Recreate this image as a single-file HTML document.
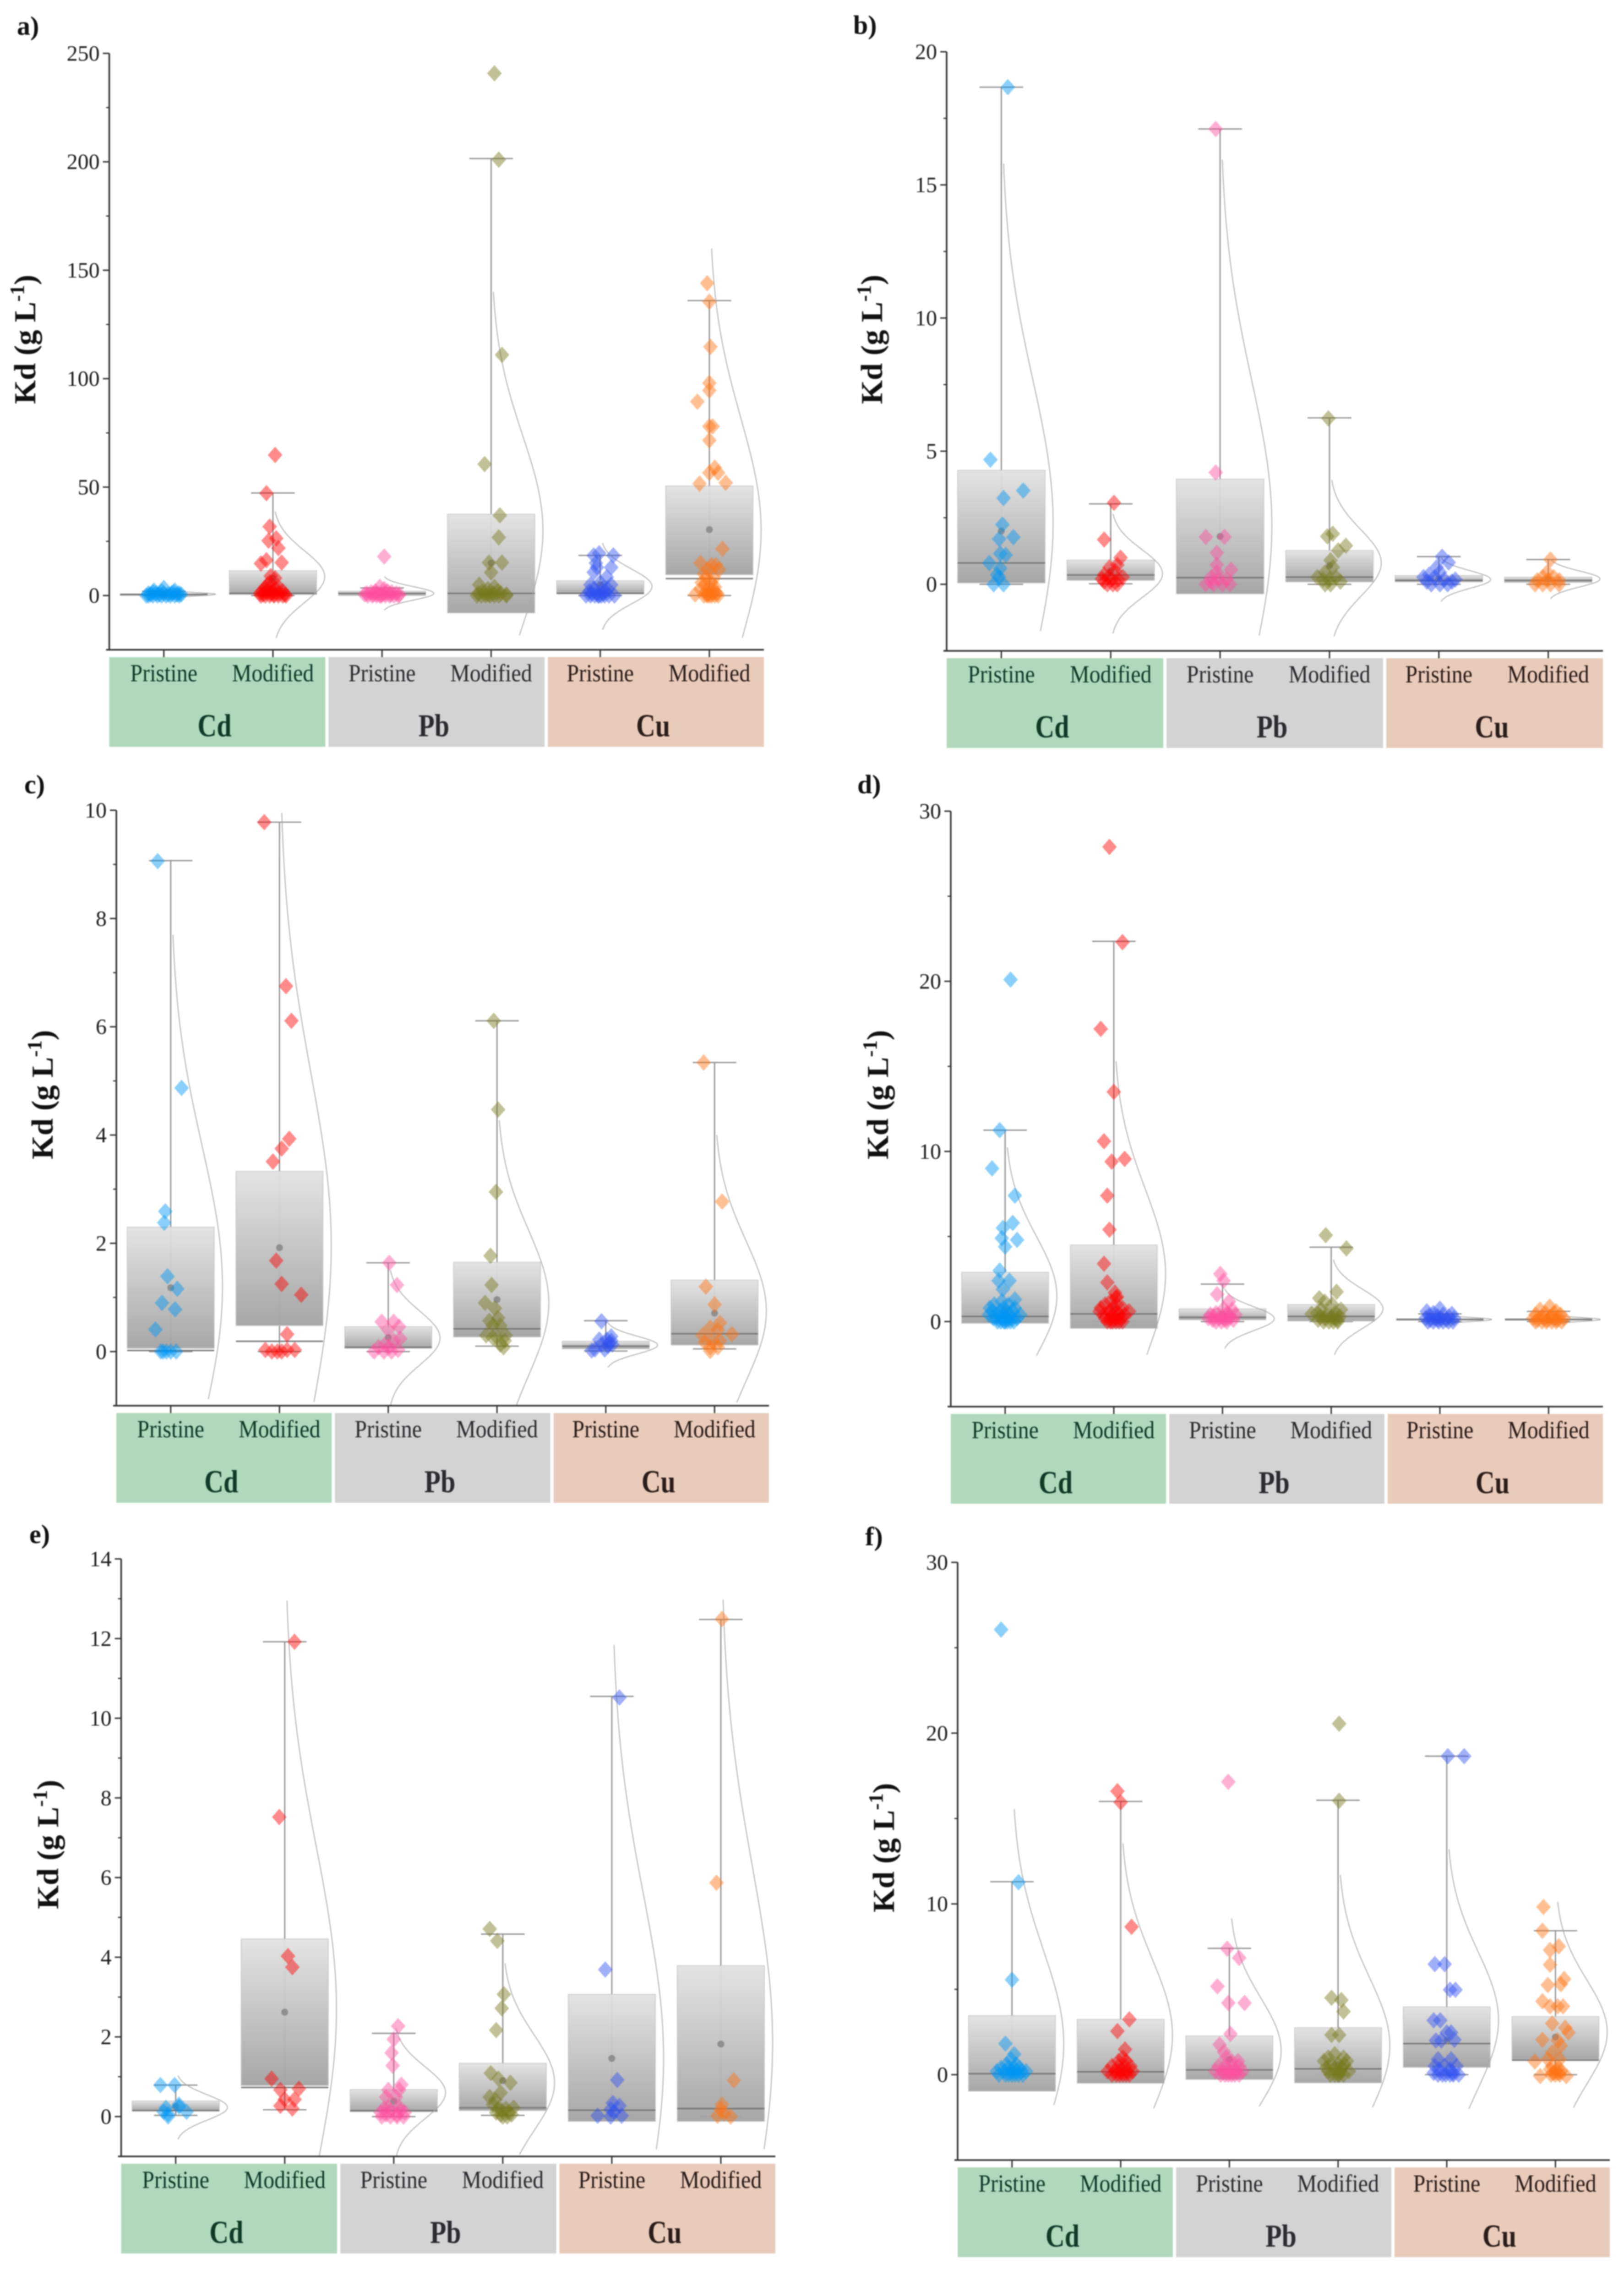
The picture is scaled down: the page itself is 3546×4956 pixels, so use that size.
<!DOCTYPE html>
<html lang="en">
<head>
<meta charset="utf-8">
<title>Kd distribution by metal and adsorbent type</title>
<style>
html,body{margin:0;padding:0;background:#fff;}
svg{display:block;filter:blur(1.3px);}
text{font-family:"Liberation Serif",serif;}
</style>
</head>
<body>
<svg id="figure" xmlns="http://www.w3.org/2000/svg" width="3546" height="4956" viewBox="0 0 3546 4956">
<defs>
<linearGradient id="boxFill" x1="0" y1="0" x2="0" y2="1">
<stop offset="0" stop-color="#e2e2e2"/>
<stop offset="1" stop-color="#a2a2a2"/>
</linearGradient>
</defs>
<rect x="0" y="0" width="3546" height="4956" fill="#ffffff"/>
</svg>
<script>
const categories = ['Pristine','Modified','Pristine','Modified','Pristine','Modified'];
const metals = ['Cd','Pb','Cu'];
const yAxisTitle = 'Kd (g L';
const yAxisExponent = '-1';
const pointColors = ['#0096f5','#ff0000','#ff4fa0','#77781c','#3050f0','#ff7314'];

/* Panel a */
const aDomain = [-25,250];
const aTicks = [0,50,100,150,200,250];
const aMinorTicks = [25,75,125,175,225];
const aQ1 = [0,0.5,0,-8,1,9.6];
const aQ3 = [0.8,11.5,2,37.5,6.8,50.5];
const aMedian = [0.5,1,1,1,1,7.8];
const aMean = [0.5,8,1,15,5,30.4];
const aWhiskerLow = [0,0,0,0,0,0];
const aWhiskerHigh = [2,47.3,3.5,201.5,18.5,136];
const aCurveMean = [0.6,8.7,1,30,4.2,30];
const aCurveSd = [0.8,12,3.1,44,8,52];
const aValues = [
[0,0,0,0,0,0,0,0,0,.5,.5,.5,.5,.5,1,1,1,1,1,1.5,1.5,2.3,2.3,3.5,2],
[64.8,47.2,31.8,25.3,26.4,21.9,14.8,16.3,15.2,9,8,6,5,4.5,3.5,3,3,2,2,2,1.5,1,1,1,.5,.5,.5,0,0,0,0,0,0,0],
[18,4,3,2,2,1.5,1.5,1,1,1,1,.5,.5,.5,.5,.5,0,0,0,0,0,0,0,0,0],
[240.8,201,111,60.6,37,26.8,15.2,15.2,10.7,5,4,3,2,2,1,1,1,1,.5,.5,0,0,0,0,0,0,0],
[19.5,18.5,18.5,15,13,13,10.7,8.5,6,5,5,3,3,3,2,2,1,1,1,0,0,0,0,0,0,0,0,0],
[144,135.5,114.7,98,94.6,89.4,78,78,71.6,59,56.6,56.6,51.6,52,21.5,15,14,14,12,12,10,8,8,6,6,5,4,3,3,2,2,1,1,1,.5,.5,0,0,0,0,0,0]
];
const aJitter = [
[-14,-10,-6,-2,2,6,10,14,-16,-12,-4,4,12,16,-14,-7,0,7,14,-10,9,-9,10,0,-2],
[2,-6,-3,-4,3,5,-11,-6,8,-2,2,-3,-5,4,-7,3,-4,-10,0,9,-6,-12,-2,5,-9,1,11,-11,-7,-3,1,5,9,12],
[2,-2,2,-6,5,-10,9,-14,-5,3,13,-16,-8,0,8,16,-13,-9,-5,-1,3,7,11,15,-2],
[3,7,10,-6,8,7,-2,10,0,-11,3,-3,-8,6,-12,-5,2,9,-2,14,-13,-9,-5,-1,3,7,14],
[-1,-6,12,-4,-3,10,-6,6,0,-9,10,-6,2,7,-10,4,-3,-8,3,-13,-9,-5,-2,1,4,8,13,-1],
[-2,0,1,0,0,-11,3,0,0,5,8,0,-9,15,12,-8,2,6,-1,9,-5,-3,4,-7,2,-4,5,-8,1,-3,5,-1,3,7,-13,-2,-5,-2,0,2,5,8]
];

/* Panel b */
const bDomain = [-2.5,20];
const bTicks = [0,5,10,15,20];
const bMinorTicks = [2.5,7.5,12.5,17.5];
const bQ1 = [0.05,0.15,-0.36,0.09,0.09,0.07];
const bQ3 = [4.28,0.91,3.95,1.27,0.33,0.27];
const bMedian = [0.8,0.35,0.25,0.27,0.15,0.15];
const bMean = [2,0.5,1.8,0.7,0.2,0.2];
const bWhiskerLow = [0,0.02,0,0,0,0];
const bWhiskerHigh = [18.67,3.02,17.1,6.25,1.04,0.93];
const bCurveMean = [2.3,0.4,2.2,0.8,0.18,0.2];
const bCurveSd = [5.4,0.9,5.5,1.25,0.33,0.3];
const bValues = [
[18.67,4.68,3.52,3.24,2.24,1.7,1.77,1.1,1.15,.8,.6,.36,.27,0,0],
[3.06,1.68,1,.73,.64,.5,.36,.27,.27,.18,.18,.2,0,0,.1,0],
[17.1,4.2,1.78,1.78,1.18,.73,.55,.27,.2,.2,0,0,0,0,.45,.1],
[6.23,1.9,1.8,1.45,1.27,.9,.64,.45,.27,.27,.18,.18,.1,0,0],
[1.04,.82,.64,.45,.36,.27,.27,.18,.18,.1,.1,0,0,0],
[.93,.45,.27,.27,.18,.15,.15,0,0,0,0]
];
const bJitter = [
[6,-10,20,2,1,-2,11,4,-1,-11,-1,-4,-2,-7,2],
[3,-6,9,6,-1,4,-6,11,-2,1,7,-8,-3,2,-6,6],
[-4,-4,-13,4,-3,-3,10,-8,-1,6,-13,-6,2,9,-3,-8],
[-1,3,-2,15,8,1,3,-4,-11,6,-6,0,10,-4,1],
[3,9,-2,1,-9,-4,-14,5,15,-11,12,-7,1,8],
[2,-1,-5,5,0,-10,10,-12,-5,2,10]
];

/* Panel c */
const cDomain = [-1,10];
const cTicks = [0,2,4,6,8,10];
const cMinorTicks = [1,3,5,7,9];
const cQ1 = [0.06,0.48,0.06,0.27,0.05,0.12];
const cQ3 = [2.3,3.33,0.46,1.65,0.19,1.32];
const cMedian = [0.02,0.19,0.08,0.42,0.1,0.33];
const cMean = [1.18,1.92,0.26,0.96,0.1,0.71];
const cWhiskerLow = [0,0,0,0.1,0.01,0.05];
const cWhiskerHigh = [9.07,9.78,1.64,6.11,0.57,5.34];
const cCurveMean = [1.2,1.95,0.25,0.9,0.12,0.75];
const cCurveSd = [2.6,3.2,0.5,1.35,0.165,1.3];
const cValues = [
[9.06,4.87,2.59,2.38,1.39,1.16,.9,.78,.41,0,0,0,0,0],
[9.78,6.75,6.11,3.93,3.75,3.51,1.68,1.25,1.05,.32,.03,0,0,0,.03,.03],
[1.64,1.23,.55,.55,.46,.4,.24,.2,.13,.08,.08,0,0,0,.03],
[6.11,4.47,2.95,1.77,1.23,.9,.8,.57,.62,.48,.48,.3,.3,.26,.26,.13,.08,.2],
[.56,.28,.22,.22,.13,.13,.04,.04,.1,.2,.02,.15],
[5.34,2.77,1.2,.87,.53,.44,.3,.4,.32,.2,.2,.17,.08,.08,.01]
];
const cJitter = [
[-12,10,-5,-6,-3,6,-8,4,-14,-9,-4,0,5,-7],
[-14,6,11,9,2,-6,-3,2,20,7,-13,-7,-2,2,7,14],
[1,8,-6,5,10,0,11,5,-3,-9,1,-13,-4,3,9],
[-3,1,-1,-6,-5,-11,-2,-7,1,-4,3,-10,8,-4,0,3,6,7],
[-4,5,-6,1,-4,6,-10,-1,2,5,-13,3],
[-10,7,-8,0,5,-4,-11,3,16,-2,5,-9,-4,3,-4]
];

/* Panel d */
const dDomain = [-5,30];
const dTicks = [0,10,20,30];
const dMinorTicks = [5,15,25];
const dQ1 = [-0.1,-0.4,0.1,0.03,0.08,0.08];
const dQ3 = [2.9,4.5,0.75,1,0.17,0.17];
const dMedian = [0.3,0.45,0.25,0.3,0.12,0.12];
const dMean = [0.6,0.8,0.4,0.4,0.1,0.1];
const dWhiskerLow = [0,0,0,0,0,0];
const dWhiskerHigh = [11.25,22.35,2.2,4.37,0.45,0.6];
const dCurveMean = [1.5,2.8,0.17,0.75,0.12,0.12];
const dCurveSd = [3.5,5,0.7,1.15,0.12,0.12];
const dValues = [
[20.1,11.25,9,7.4,5.8,5.5,4.9,4.8,4.4,3,2.4,2.4,1.9,1.3,1.2,1,1,.8,.8,.8,.6,.6,.6,.6,.4,.4,.4,.4,.4,.2,.2,.2,.2,.2,.2,0,0,0,0,0,0,0],
[27.9,22.3,17.2,13.5,10.6,9.56,9.4,7.4,5.4,3.4,2.3,1.7,1.45,1.4,1.2,1,1,.8,.8,.8,.6,.6,.6,.6,.4,.4,.4,.4,.2,.2,.2,.2,0,0,0,0,0,0],
[2.8,2.4,1.6,1.17,.75,.7,.5,.5,.4,.4,.3,.3,.3,.2,.2,.2,.1,.1,.1,0,0,0],
[5.08,4.3,1.75,1.37,1.17,1,.45,.7,.7,.5,.5,.4,.3,.3,.3,.2,.2,.1,.1,0,0,0,0],
[.75,.6,.5,.45,.4,.35,.3,.3,.2,.2,.2,.2,.1,.1,.1,0,0,0,0,0,0],
[.88,.7,.6,.5,.5,.4,.4,.3,.3,.2,.2,.2,.2,.1,.1,.1,0,0,0,0,0,0]
];
const dJitter = [
[5,-5,-12,9,7,-2,-3,11,0,-5,-6,4,-2,9,-3,-10,3,-14,-1,9,-12,-5,1,7,-15,-6,-2,4,14,-11,-8,-3,1,6,11,-7,-4,-1,2,5,8,0],
[-4,8,-12,0,-9,10,-2,-6,-4,-9,-6,1,3,2,-3,-8,3,-12,-1,8,-13,-4,3,14,-9,-2,5,10,-8,-3,2,7,-6,-3,-1,2,5,8],
[-2,1,-5,6,1,9,-6,4,-11,12,-8,0,7,-13,-3,5,-9,2,10,-6,-1,4],
[-5,14,5,-11,-6,1,-18,-9,9,-13,4,-4,-10,0,8,-6,3,-12,6,-7,-2,2,6],
[0,-12,-6,11,3,-10,-2,8,-13,-5,1,13,-9,-2,6,-11,-6,-1,3,8,12],
[1,-8,7,-3,5,-12,11,-6,2,-14,-4,6,14,-10,-1,8,-12,-6,-2,3,7,12]
];

/* Panel e */
const eDomain = [-1,14];
const eTicks = [0,2,4,6,8,10,12,14];
const eMinorTicks = [1,3,5,7,9,11,13];
const eQ1 = [0.15,0.78,0.12,0.15,-0.12,-0.12];
const eQ3 = [0.39,4.46,0.68,1.34,3.07,3.79];
const eMedian = [0.15,0.73,0.15,0.22,0.16,0.2];
const eMean = [0.25,2.62,0.39,0.9,1.46,1.82];
const eWhiskerLow = [0.03,0.17,0,0.03,0.03,0];
const eWhiskerHigh = [0.79,11.92,2.09,4.58,10.55,12.48];
const eCurveMean = [0.23,2.7,0.6,0.85,1.46,1.85];
const eCurveSd = [0.32,4.1,0.65,1.2,4.15,4.45];
const eValues = [
[.79,.79,.3,.22,.12,0,.12,.06,.25],
[11.92,7.52,4.03,3.75,.95,.67,.7,.43,.43,.27,.2],
[2.27,1.94,1.6,1.28,.8,.67,.67,.49,.49,.24,.24,.2,.15,.15,.1,.1,.05,.05,0,0,0,0],
[4.71,4.41,3.07,2.72,2.17,1.09,.95,.85,.6,.49,.42,.22,.3,.2,.2,.15,.1,.1,.05,.05,0,0],
[10.52,3.69,.92,.34,.27,.18,.02,0,.02,.12],
[12.49,5.87,.91,.3,.18,.02,0,.08]
];
const eJitter = [
[-14,-1,3,-9,10,-7,-11,-7,3],
[9,-5,3,7,-12,-4,13,0,9,-4,7],
[4,0,-2,-1,7,-5,5,-7,2,-5,5,-9,-3,6,-12,10,-7,3,-11,-3,3,9],
[-12,-5,1,-1,-6,-11,-4,7,-2,-12,-7,10,-9,-4,3,-1,-6,5,-2,8,0,4],
[7,-6,5,1,7,-1,-13,-1,9,2],
[1,-4,12,1,0,-3,9,3]
];

/* Panel f */
const fDomain = [-5,30];
const fTicks = [0,10,20,30];
const fMinorTicks = [5,15,25];
const fQ1 = [-0.97,-0.5,-0.28,-0.48,0.43,0.9];
const fQ3 = [3.46,3.24,2.27,2.75,3.97,3.4];
const fMedian = [0.06,0.17,0.28,0.34,1.82,0.85];
const fMean = [0.3,0.5,0.9,0.6,2,2.2];
const fWhiskerLow = [0,0,0,0,0,0];
const fWhiskerHigh = [11.3,16,7.4,16.07,18.65,8.43];
const fCurveMean = [1.8,2.3,1.4,1.7,3.2,2.5];
const fCurveSd = [5.5,4.5,3.1,4,4,3.05];
const fValues = [
[26.06,11.27,5.56,1.82,1.2,.9,.6,.6,.4,.4,.4,.4,.2,.2,.2,.2,.2,.2,0,0,0,0,0,0,0],
[16.6,15.95,8.66,3.24,2.55,1.48,1,.8,.8,.5,.5,.5,.5,.2,.2,.2,.2,.2,0,0,0,0,0,0],
[17.15,7.38,6.84,5.17,4.2,4.2,2.38,1.76,1.33,1,.8,.8,.5,.5,.5,.5,.2,.2,.2,.2,.2,0,0,0,0,0,0],
[20.55,16.04,4.5,4.37,3.7,2.33,2.33,1.2,1,1,.8,.8,.6,.6,.6,.4,.4,.4,.2,.2,.2,0,0,0,0,0],
[18.65,18.65,6.47,6.47,4.97,4.97,3.18,3.18,2.47,2.47,2,2.04,2,.9,.9,.5,.5,.5,.3,.3,.1,.1,0,0,0,0,0,0],
[9.82,8.43,7.52,7.3,6.44,5.6,5.3,5.25,4.3,4,4,4,3,2.75,2.47,2.04,2,1.7,1.3,.77,.9,.9,-.08,-.08,.5,.4,.3,.2,.2,.1,.1,0,0,0]
];
const fJitter = [
[-10,6,0,-6,2,-1,-5,4,-10,-3,2,7,-14,-7,-1,4,9,13,-12,-6,-3,0,3,6,10],
[-3,0,10,8,-3,4,2,-2,5,-8,-2,4,9,-12,-5,0,6,11,-8,-4,-1,2,5,8],
[-1,-2,9,-11,-1,14,1,-9,-5,-3,2,8,-10,-4,3,9,-13,-6,0,6,12,-8,-4,-1,2,5,9],
[1,1,-6,3,5,-6,1,-3,-9,5,-13,8,-7,0,6,-11,-3,4,-9,2,10,-7,-3,1,5],
[1,16,-11,-2,3,8,-12,-6,4,0,-5,7,-10,-8,4,-11,-2,9,-7,3,-12,6,-8,-4,-1,3,6,11],
[-11,-12,3,-5,-5,8,5,-7,-12,-5,7,2,-3,9,12,-12,2,5,-3,-19,-7,4,-14,10,-3,3,-5,0,5,-2,3,-4,0,4]
];

const layouts = [
{id:'a',label:'a)',left:238.6,right:1668,top:116.5,bottom:1418.6,labelX:37,labelY:76,titleX:77,titleY:741,clipValue:-20,domain:aDomain,ticks:aTicks,minor:aMinorTicks,q1:aQ1,q3:aQ3,median:aMedian,mean:aMean,low:aWhiskerLow,high:aWhiskerHigh,curveMean:aCurveMean,curveSd:aCurveSd,values:aValues,jitter:aJitter},
{id:'b',label:'b)',left:2067,right:3500,top:113,bottom:1421,labelX:1863,labelY:74,titleX:1926,titleY:741,clipValue:-2,domain:bDomain,ticks:bTicks,minor:bMinorTicks,q1:bQ1,q3:bQ3,median:bMedian,mean:bMean,low:bWhiskerLow,high:bWhiskerHigh,curveMean:bCurveMean,curveSd:bCurveSd,values:bValues,jitter:bJitter},
{id:'c',label:'c)',left:254,right:1679,top:1769,bottom:3069,labelX:53,labelY:1732,titleX:115,titleY:2390,clipValue:-1,domain:cDomain,ticks:cTicks,minor:cMinorTicks,q1:cQ1,q3:cQ3,median:cMedian,mean:cMean,low:cWhiskerLow,high:cWhiskerHigh,curveMean:cCurveMean,curveSd:cCurveSd,values:cValues,jitter:cJitter},
{id:'d',label:'d)',left:2076,right:3500,top:1771,bottom:3071,labelX:1872,labelY:1732,titleX:1939,titleY:2390,clipValue:-2,domain:dDomain,ticks:dTicks,minor:dMinorTicks,q1:dQ1,q3:dQ3,median:dMedian,mean:dMean,low:dWhiskerLow,high:dWhiskerHigh,curveMean:dCurveMean,curveSd:dCurveSd,values:dValues,jitter:dJitter},
{id:'e',label:'e)',left:264.6,right:1693,top:3403.5,bottom:4708,labelX:64,labelY:3369,titleX:127,titleY:4027,clipValue:-1,domain:eDomain,ticks:eTicks,minor:eMinorTicks,q1:eQ1,q3:eQ3,median:eMedian,mean:eMean,low:eWhiskerLow,high:eWhiskerHigh,curveMean:eCurveMean,curveSd:eCurveSd,values:eValues,jitter:eJitter},
{id:'f',label:'f)',left:2091,right:3515,top:3411,bottom:4716,labelX:1889,labelY:3374,titleX:1952,titleY:4034,clipValue:-2,domain:fDomain,ticks:fTicks,minor:fMinorTicks,q1:fQ1,q3:fQ3,median:fMedian,mean:fMean,low:fWhiskerLow,high:fWhiskerHigh,curveMean:fCurveMean,curveSd:fCurveSd,values:fValues,jitter:fJitter}
];

const svgNS = 'http://www.w3.org/2000/svg';
const root = document.getElementById('figure');
const stripFills = ['#b0d9bc','#d3d3d3','#e8cbbb'];
const stripInk = ['#0f3a28','#2b2b30','#2a1c18'];
const curvePeak = 113;
const diamondHalfW = 16;
const diamondHalfH = 18;

function mk(tag, attrs, parent) {
  const el = document.createElementNS(svgNS, tag);
  for (const k in attrs) el.setAttribute(k, attrs[k]);
  parent.appendChild(el);
  return el;
}

function drawPanel(p) {
  const g = mk('g', {}, root);
  
  

  const yScale = v => p.top + (p.domain[1] - v) * (p.bottom - p.top) / (p.domain[1] - p.domain[0]);
  const step = (p.right - p.left) / categories.length;
  const xScale = i => p.left + step * (i + 0.5);

  /* panel letter */
  const letter = mk('text', {x:p.labelX, y:p.labelY, 'font-size':58, 'font-weight':'bold', fill:'#111'}, g);
  
  
  letter.textContent = p.label;

  /* y axis title */
  const title = mk('text', {x:p.titleX, y:p.titleY, 'font-size':67, 'font-weight':'bold', fill:'#111', 'text-anchor':'middle', transform:'rotate(-90 ' + p.titleX + ' ' + p.titleY + ')'}, g);
  
  
  const t1 = mk('tspan', {}, title);
  t1.textContent = yAxisTitle;
  const t2 = mk('tspan', {dy:-25, 'font-size':44}, title);
  t2.textContent = yAxisExponent;
  const t3 = mk('tspan', {dy:25}, title);
  t3.textContent = ')';

  /* category strips */
  const stripW = (p.right - p.left - 14) / 3;
  const stripTop = p.bottom + 16;
  metals.forEach((m, k) => {
    const sx = p.left + k * (stripW + 7);
    const strip = mk('rect', {x:sx, y:stripTop, width:stripW, height:196, fill:stripFills[k]}, g);
    
    
    const mx = sx + stripW / 2 - 6;
    const my = stripTop + 173;
    const mt = mk('text', {'font-size':58, 'font-weight':'bold', fill:stripInk[k], 'text-anchor':'middle', transform:'translate(' + mx + ' ' + my + ') scale(1 1.2)'}, g);
    
    
    mt.textContent = m;
  });

  /* series */
  categories.forEach((cat, i) => {
    const cx = xScale(i);
    const boxHalf = step * 0.4;
    const capHalf = step * 0.2;
    const ink = stripInk[Math.floor(i / 2)];

    const whisker = mk('line', {x1:cx, x2:cx, y1:yScale(p.high[i]), y2:yScale(p.low[i]), stroke:'#8c8c8c', 'stroke-width':2.6}, g);
    
    
    const capHi = mk('line', {x1:cx - capHalf, x2:cx + capHalf, y1:yScale(p.high[i]), y2:yScale(p.high[i]), stroke:'#8c8c8c', 'stroke-width':2.6}, g);
    
    
    const capLo = mk('line', {x1:cx - capHalf, x2:cx + capHalf, y1:yScale(p.low[i]), y2:yScale(p.low[i]), stroke:'#8c8c8c', 'stroke-width':2.6}, g);
    
    

    const boxTop = yScale(p.q3[i]);
    const boxBot = yScale(p.q1[i]);
    const box = mk('rect', {x:cx - boxHalf, y:boxTop, width:boxHalf * 2, height:Math.max(boxBot - boxTop, 1), fill:'url(#boxFill)', stroke:'#c8c8c8', 'stroke-width':1.5, 'fill-opacity':0.95}, g);
    
    

    const med = mk('line', {x1:cx - boxHalf, x2:cx + boxHalf, y1:yScale(p.median[i]), y2:yScale(p.median[i]), stroke:'#757575', 'stroke-width':3}, g);
    
    

    const meanDot = mk('circle', {cx:cx, cy:yScale(p.mean[i]), r:7.5, fill:'#8f8f8f'}, g);
    
    

    /* normal curve, 2.5 sd either side of its mean, stopped at the panel's clip value */
    let d = '';
    for (let s = -50; s <= 50; s++) {
      const z = s / 20;
      const v = p.curveMean[i] + z * p.curveSd[i];
      if (v < p.clipValue) continue;
      const px = cx + curvePeak * Math.exp(-z * z / 2);
      d += (d ? 'L' : 'M') + px.toFixed(1) + ' ' + yScale(v).toFixed(1);
    }
    const curve = mk('path', {d:d, fill:'none', stroke:'#a8a8a8', 'stroke-width':1.8}, g);
    
    

    p.values[i].forEach((v, n) => {
      const jit = p.jitter[i][n] === undefined ? 0 : p.jitter[i][n];
      const px = cx + jit / 100 * step;
      const py = yScale(v);
      const pts = [px, py - diamondHalfH, px + diamondHalfW, py, px, py + diamondHalfH, px - diamondHalfW, py].map(c => c.toFixed(1)).join(' ');
      const mark = mk('polygon', {points:pts, fill:pointColors[i], 'fill-opacity':0.46}, g);
      
      
    });

    const tick = mk('line', {x1:cx, x2:cx, y1:p.bottom, y2:p.bottom + 16, stroke:'#333', 'stroke-width':3}, g);
    
    

    const lx = cx;
    const ly = stripTop + 53;
    const lab = mk('text', {'font-size':48, fill:ink, 'text-anchor':'middle', transform:'translate(' + lx + ' ' + ly + ') scale(1 1.13)'}, g);
    
    
    lab.textContent = cat;
  });

  /* axes */
  const yAxis = mk('line', {x1:p.left, x2:p.left, y1:p.top, y2:p.bottom, stroke:'#333', 'stroke-width':3.5}, g);
  
  
  const xAxis = mk('line', {x1:p.left - 7, x2:p.right, y1:p.bottom, y2:p.bottom, stroke:'#333', 'stroke-width':3.5}, g);
  
  

  p.ticks.forEach(v => {
    const ty = yScale(v);
    const tick = mk('line', {x1:p.left - 14, x2:p.left, y1:ty, y2:ty, stroke:'#333', 'stroke-width':3}, g);
    
    
    const lab = mk('text', {x:p.left - 21, y:ty + 16, 'font-size':48, fill:'#1c1c1c', 'text-anchor':'end'}, g);
    
    
    lab.textContent = String(v);
  });
  p.minor.forEach(v => {
    const ty = yScale(v);
    const tick = mk('line', {x1:p.left - 7, x2:p.left, y1:ty, y2:ty, stroke:'#333', 'stroke-width':2.5}, g);
    
    
  });
}

layouts.forEach(drawPanel);
</script>
</body>
</html>
